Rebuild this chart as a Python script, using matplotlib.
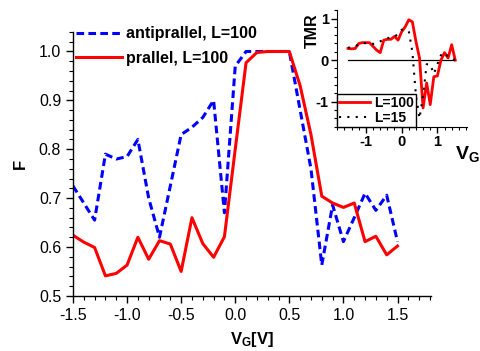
import numpy as np
import matplotlib
matplotlib.use("Agg")
import matplotlib.pyplot as plt
from matplotlib.ticker import MultipleLocator, FormatStrFormatter

plt.rcParams['font.family'] = ['Liberation Sans', 'DejaVu Sans']
plt.rcParams['axes.unicode_minus'] = False
plt.rcParams['mathtext.fontset'] = 'custom'
plt.rcParams['mathtext.rm'] = 'Liberation Sans'
plt.rcParams['mathtext.bf'] = 'Liberation Sans:bold'

# ---- data (main panel) ----
vg = [-1.5, -1.4, -1.3, -1.2, -1.1, -1.0, -0.9, -0.8, -0.7, -0.6, -0.5, -0.4, -0.3, -0.2, -0.1,
      0.0, 0.1, 0.2, 0.3, 0.4, 0.5, 0.6, 0.7, 0.8, 0.9, 1.0, 1.1, 1.2, 1.3, 1.4, 1.5]
f_antiparallel = [0.725, 0.69, 0.655, 0.79, 0.78, 0.785, 0.82, 0.70, 0.62, 0.725, 0.83, 0.845, 0.865, 0.90, 0.67,
                  0.97, 1.0, 1.0, 1.0, 1.0, 1.0, 0.88, 0.76, 0.563, 0.686, 0.611, 0.66, 0.71, 0.675, 0.706, 0.611]
f_parallel = [0.624, 0.61, 0.599, 0.541, 0.546, 0.563, 0.62, 0.575, 0.613, 0.606, 0.55, 0.66, 0.607, 0.579, 0.621,
              0.80, 0.977, 0.998, 1.0, 1.0, 1.0, 0.93, 0.83, 0.704, 0.69, 0.681, 0.69, 0.611, 0.622, 0.584, 0.602]

# ---- data (inset) ----
tmr_L100 = [0.28, 0.27, 0.28, 0.40, 0.42, 0.42, 0.42, 0.33, 0.24, 0.18, 0.48, 0.50, 0.50, 0.57, 0.48,
            0.68, 0.80, 0.97, 0.92, 0.45, 0.05, -1.15, -0.55, -1.07, -0.40, -0.38, 0.0, 0.18, 0.05, 0.37, 0.0]
tmr_L15 = [0.30, 0.30, 0.33, 0.38, 0.40, 0.41, 0.41, 0.39, 0.40, 0.45, 0.50, 0.52, 0.56, 0.57, 0.62,
           0.73, 0.72, 0.70, 0.20, -0.85, -1.40, -0.85, -0.10, -0.10, -0.33, -0.10, 0.12, 0.18, 0.08, 0.05, 0.0]
zero_x = [-1.5, 1.5]
zero_y = [0.0, 0.0]

fig = plt.figure(figsize=(4.8, 3.51), dpi=100)
ax = fig.add_axes([0.152, 0.157, 0.746, 0.752])

ax.plot(vg, f_antiparallel, color='#0000ff', lw=2.2, linestyle=(0, (2.5, 1.4)),
        label='antiprallel, L=100')
ax.plot(vg, f_parallel, color='#ff0000', lw=2.2, label='prallel, L=100')

ax.set_xlim(-1.5, 1.81)
ax.set_ylim(0.5, 1.04)
ax.xaxis.set_major_locator(MultipleLocator(0.5))
ax.xaxis.set_minor_locator(MultipleLocator(0.1))
ax.yaxis.set_major_locator(MultipleLocator(0.1))
ax.yaxis.set_minor_locator(MultipleLocator(0.02))
ax.xaxis.set_major_formatter(FormatStrFormatter('%.1f'))
ax.yaxis.set_major_formatter(FormatStrFormatter('%.1f'))
for s in ['top', 'right']:
    ax.spines[s].set_visible(False)
for s in ['left', 'bottom']:
    ax.spines[s].set_linewidth(1.0)
ax.tick_params(which='major', direction='out', length=5, width=1.0, labelsize=11.5)
ax.tick_params(which='minor', direction='out', length=3, width=0.8)
ax.set_ylabel('F', fontsize=12, fontweight='bold', labelpad=8)
ax.set_xlabel(r'$\mathbf{V_G[V]}$', fontsize=12, labelpad=5)

leg = ax.legend(loc='upper left', bbox_to_anchor=(-0.01, 1.045), frameon=False,
                prop={'weight': 'bold', 'size': 11.5}, handlelength=2.9,
                handletextpad=0.25, labelspacing=0.6, borderaxespad=0)

# ---- inset ----
axi = fig.add_axes([0.702, 0.639, 0.271, 0.332])
axi.plot(zero_x, zero_y, color='black', lw=0.9)
axi.plot(vg, tmr_L100, color='#ff0000', lw=2.0, label='L=100')
axi.plot(vg, tmr_L15, color='black', lw=1.5, linestyle=(0, (1, 3)), label='L=15')
axi.set_xlim(-1.81, 1.83)
axi.set_ylim(-1.6, 1.2)
axi.xaxis.set_major_locator(MultipleLocator(1))
axi.xaxis.set_minor_locator(MultipleLocator(0.2))
axi.yaxis.set_major_locator(MultipleLocator(1))
axi.yaxis.set_minor_locator(MultipleLocator(0.2))
axi.patch.set_alpha(0)
for s in ['top', 'right']:
    axi.spines[s].set_visible(False)
axi.tick_params(which='major', direction='out', length=4, width=1.0, labelsize=10.5, pad=2)
axi.tick_params(which='minor', direction='out', length=2.5, width=0.8)
for lab in axi.get_xticklabels() + axi.get_yticklabels():
    lab.set_fontweight('bold')
axi.set_ylabel('TMR', fontsize=11.5, fontweight='bold', labelpad=-2)
axi.yaxis.set_label_coords(-0.13, 0.82)
fig.text(0.947, 0.56, r'$\mathbf{V_G}$', fontsize=14, ha='left', va='center')
lg2 = axi.legend(loc='lower left', bbox_to_anchor=(0, 0), borderaxespad=0,
                 prop={'weight': 'bold', 'size': 10}, handlelength=2.2,
                 handletextpad=0.3, labelspacing=0.05, borderpad=0.15,
                 fancybox=False, framealpha=1, edgecolor='black')
lg2.get_frame().set_linewidth(1.0)

fig.savefig('out.png', dpi=100)
